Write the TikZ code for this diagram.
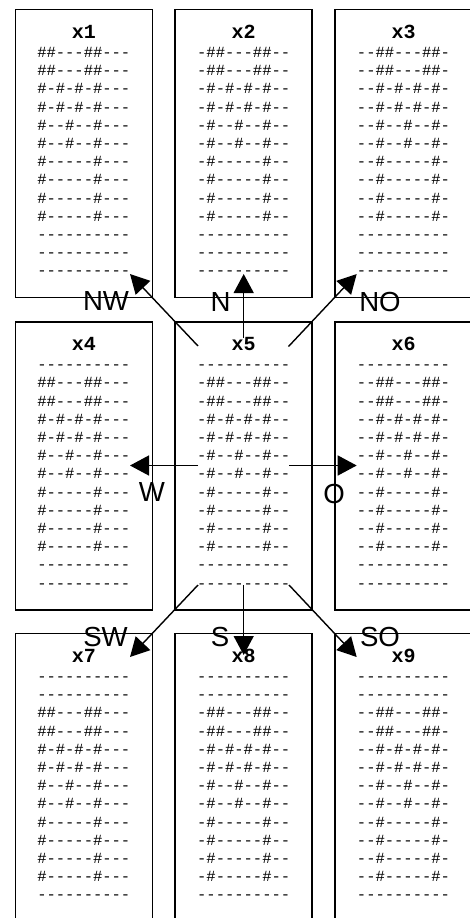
\documentclass[tikz,border=0pt]{standalone}
\usepackage{fontspec}
\setmainfont{Liberation Sans}
\newfontfamily\monofont{Liberation Mono}[Ligatures=TeXOff]
\newfontfamily\labelfont{Liberation Sans}
\usetikzlibrary{arrows.meta}

% one text row of ten dashes
\newcommand\dashrow{\hbox{----------}}
% 13 rows: #3 blank rows on top, ten rows of the letter M (padded by #1 and #2), blank rows below
\newcommand\glyphrows[3]{%
  \vbox{\monofont\fontsize{15.5pt}{18.2pt}\selectfont
    \baselineskip=18.2pt\lineskiplimit=-100pt\lineskip=0pt
    \ifcase#3\or\dashrow\or\dashrow\dashrow\fi
    \hbox{#1\#\#---\#\##2}\hbox{#1\#\#---\#\##2}
    \hbox{#1\#-\#-\#-\##2}\hbox{#1\#-\#-\#-\##2}
    \hbox{#1\#--\#--\##2}\hbox{#1\#--\#--\##2}
    \hbox{#1\#-----\##2}\hbox{#1\#-----\##2}
    \hbox{#1\#-----\##2}\hbox{#1\#-----\##2}
    \ifcase#3\dashrow\dashrow\dashrow\or\dashrow\dashrow\or\dashrow\fi}}

\tikzset{
  frame/.style={draw, line width=1.6pt, minimum width=137pt, minimum height=288pt,
    inner sep=0pt, outer sep=0pt},
  title/.style={font=\monofont\bfseries\fontsize{20pt}{24pt}\selectfont,
    inner sep=0pt, anchor=base},
  body/.style={inner sep=0pt, anchor=base},
  lbl/.style={font=\labelfont\fontsize{27.6pt}{33pt}\selectfont,
    inner sep=0pt, anchor=base},
  arr/.style={line width=1.4pt, -{Triangle[length=19pt,width=20pt]}}
}

\begin{document}
\begin{tikzpicture}[x=1pt, y=-1pt]
\useasboundingbox (0,0) rectangle (470,918);

% frames (three columns, three rows)
\node[frame] (b1) at (83.8,153.5) {};
\node[frame] (b2) at (243.7,153.5) {};
\node[frame] (b3) at (403.5,153.5) {};
\node[frame] (b4) at (83.8,465.7) {};
\node[frame] (b5) at (243.7,465.7) {};
\node[frame] (b6) at (403.5,465.7) {};
\node[frame] (b7) at (83.8,777.5) {};
\node[frame] (b8) at (243.7,777.5) {};
\node[frame] (b9) at (403.5,777.5) {};

% titles
\node[title] (h1) at (83.8,38.1) {x1};
\node[title] (h2) at (243.7,38.1) {x2};
\node[title] (h3) at (403.5,38.1) {x3};
\node[title] (h4) at (83.8,350.3) {x4};
\node[title] (h5) at (243.7,350.3) {x5};
\node[title] (h6) at (403.5,350.3) {x6};
\node[title] (h7) at (83.8,662.1) {x7};
\node[title] (h8) at (243.7,662.1) {x8};
\node[title] (h9) at (403.5,662.1) {x9};

% character grids (anchored at the baseline of the last row)
\node[body] (t1) at (83.8,275.9) {\glyphrows{}{---}{0}};
\node[body] (t2) at (243.7,275.9) {\glyphrows{-}{--}{0}};
\node[body] (t3) at (403.5,275.9) {\glyphrows{--}{-}{0}};
\node[body] (t4) at (83.8,588.1) {\glyphrows{}{---}{1}};
\node[body] (t5) at (243.7,588.1) {\glyphrows{-}{--}{1}};
\node[body] (t6) at (403.5,588.1) {\glyphrows{--}{-}{1}};
\node[body] (t7) at (83.8,899.9) {\glyphrows{}{---}{2}};
\node[body] (t8) at (243.7,899.9) {\glyphrows{-}{--}{2}};
\node[body] (t9) at (403.5,899.9) {\glyphrows{--}{-}{2}};

% arrow end points
\coordinate (sNW) at (198,346);
\coordinate (sN)  at (243.7,338);
\coordinate (sNO) at (288.5,346.5);
\coordinate (sW)  at (198,465.5);
\coordinate (sO)  at (289,465.5);
\coordinate (sSW) at (198,585);
\coordinate (sS)  at (243.7,585);
\coordinate (sSO) at (289,585);
\coordinate (eNW) at (130,274);
\coordinate (eN)  at (243.7,274);
\coordinate (eNO) at (356.7,274);
\coordinate (eW)  at (130,465.5);
\coordinate (eO)  at (356.7,465.5);
\coordinate (eSW) at (130,657);
\coordinate (eS)  at (243.7,655);
\coordinate (eSO) at (356.7,657);

\draw[arr] (sNW) -- (eNW);
\draw[arr] (sN)  -- (eN);
\draw[arr] (sNO) -- (eNO);
\draw[arr] (sW)  -- (eW);
\draw[arr] (sO)  -- (eO);
\draw[arr] (sSW) -- (eSW);
\draw[arr] (sS)  -- (eS);
\draw[arr] (sSO) -- (eSO);

% direction labels
\node[lbl] (lNW) at (106,310) {NW};
\node[lbl] (lN)  at (220.5,311) {N};
\node[lbl] (lNO) at (380,311) {NO};
\node[lbl] (lW)  at (152,501.5) {W};
\node[lbl] (lO)  at (334,503) {O};
\node[lbl] (lSW) at (105.5,646.5) {SW};
\node[lbl] (lS)  at (220,646.5) {S};
\node[lbl] (lSO) at (380,646.5) {SO};
\end{tikzpicture}
\end{document}
